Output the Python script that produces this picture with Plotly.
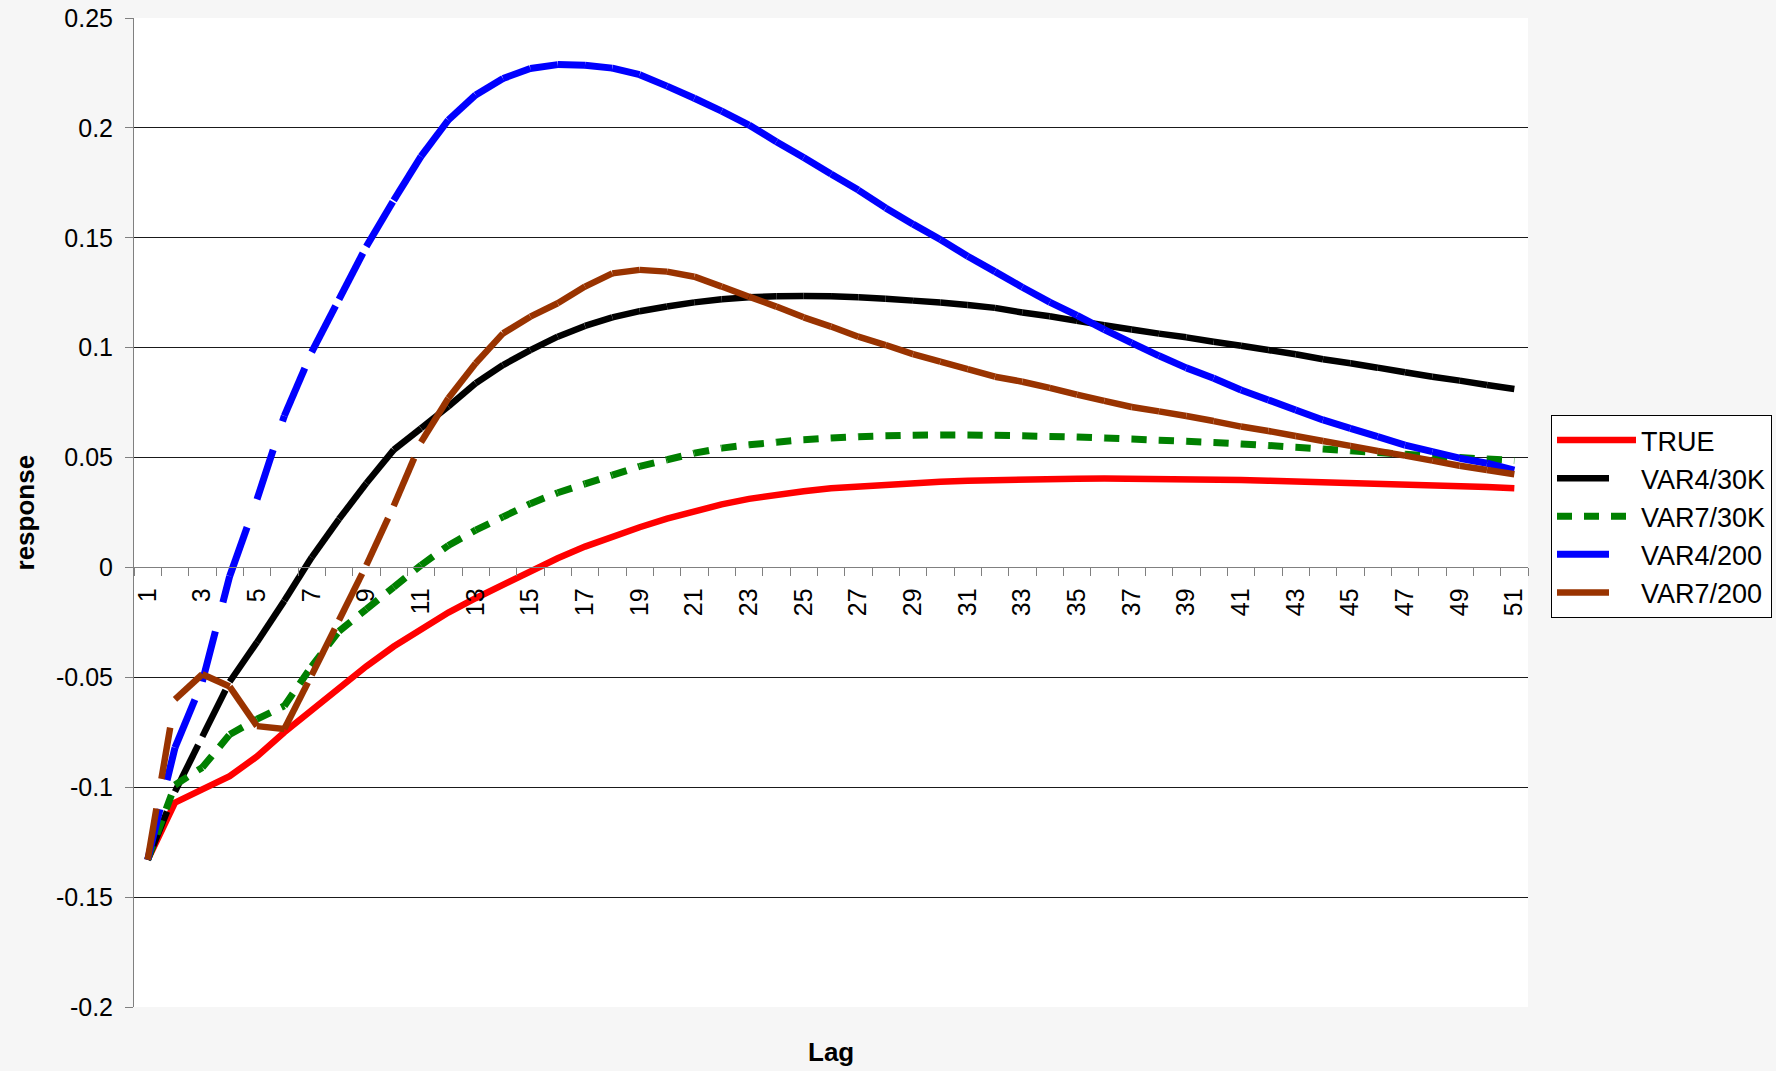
import plotly.graph_objects as go

# ---------------- data ----------------
lags = list(range(1, 52))

true_vals = [-0.133, -0.107, -0.101, -0.095, -0.086, -0.075, -0.065, -0.055, -0.045, -0.036,
             -0.028, -0.0205, -0.014, -0.0077, -0.0015, 0.0042, 0.0095, 0.0142, 0.0183, 0.0222,
             0.0257, 0.0287, 0.0312, 0.0332, 0.0347, 0.0360, 0.0369, 0.0377, 0.0385, 0.0390,
             0.0395, 0.0399, 0.0401, 0.0403, 0.0404, 0.0405, 0.0405, 0.0404, 0.0402, 0.0400,
             0.0398, 0.0395, 0.0392, 0.0389, 0.0386, 0.0382, 0.0378, 0.0374, 0.0370, 0.0366,
             0.0360]

var4_30k = [-0.133, -0.102, -0.077, -0.052, -0.034, -0.0152, 0.0046, 0.022, 0.0383, 0.0535,
            0.0633, 0.0732, 0.0838, 0.0921, 0.0989, 0.1050, 0.1099, 0.1138, 0.1166, 0.1187,
            0.1206, 0.1220, 0.1229, 0.1234, 0.1235, 0.1234, 0.1229, 0.1223, 0.1214, 0.1205,
            0.1194, 0.1181, 0.1160, 0.1143, 0.1122, 0.1102, 0.1083, 0.1064, 0.1047, 0.1027,
            0.1009, 0.0989, 0.0970, 0.0947, 0.0929, 0.0909, 0.0888, 0.0868, 0.0850, 0.0830,
            0.0812]

var7_30k = [-0.133, -0.099, -0.091, -0.076, -0.069, -0.063, -0.045, -0.029, -0.019, -0.009,
            0.001, 0.010, 0.017, 0.023, 0.029, 0.034, 0.038, 0.042, 0.046, 0.049,
            0.052, 0.0543, 0.0558, 0.0570, 0.0581, 0.0589, 0.0595, 0.0599, 0.0602, 0.0603,
            0.0603, 0.0601, 0.0599, 0.0596, 0.0593, 0.0589, 0.0584, 0.0579, 0.0574, 0.0569,
            0.0562, 0.0555, 0.0547, 0.0539, 0.0531, 0.0523, 0.0515, 0.0507, 0.0500, 0.0493,
            0.0487]

var4_200 = [-0.133, -0.082, -0.052, -0.004, 0.031, 0.069, 0.098, 0.122, 0.146, 0.167,
            0.187, 0.2036, 0.215, 0.2225, 0.227, 0.2288, 0.2285, 0.2272, 0.2242, 0.2190,
            0.2135, 0.2076, 0.2013, 0.1937, 0.1865, 0.1790, 0.1717, 0.1636, 0.1562, 0.1492,
            0.1416, 0.1346, 0.1275, 0.1207, 0.1147, 0.1082, 0.1022, 0.0963, 0.0908, 0.0861,
            0.0807, 0.0762, 0.0716, 0.0671, 0.0633, 0.0595, 0.0557, 0.0527, 0.0497, 0.0474,
            0.0443]

var7_200 = [-0.133, -0.060, -0.0486, -0.0542, -0.0722, -0.0735, -0.049, -0.024, 0.001, 0.028,
            0.057, 0.077, 0.0929, 0.1065, 0.1141, 0.1202, 0.1278, 0.1338, 0.1354, 0.1346,
            0.1323, 0.1278, 0.1232, 0.1187, 0.1138, 0.1096, 0.1050, 0.1012, 0.0971, 0.0936,
            0.0902, 0.0868, 0.0845, 0.0817, 0.0786, 0.0758, 0.0730, 0.0710, 0.0689, 0.0666,
            0.0641, 0.0621, 0.0598, 0.0575, 0.0553, 0.0530, 0.0509, 0.0486, 0.0463, 0.0443,
            0.0424]

x_tick_vals = list(range(1, 52, 2))
x_tick_text = [str(v) for v in x_tick_vals]
y_tick_vals = [0.25, 0.2, 0.15, 0.1, 0.05, 0.0, -0.05, -0.1, -0.15, -0.2]
y_tick_text = ["0.25", "0.2", "0.15", "0.1", "0.05", "0", "-0.05", "-0.1", "-0.15", "-0.2"]

FONT = "Liberation Sans, Arial, sans-serif"


def per_segment(xs, ys):
    """Split a series into separate sub-paths so the dash pattern restarts
    at every data point (as in the original spreadsheet rendering)."""
    sx, sy = [], []
    for i in range(len(xs) - 1):
        sx += [xs[i], xs[i + 1], None]
        sy += [ys[i], ys[i + 1], None]
    return sx, sy


fig = go.Figure()

fig.add_trace(go.Scatter(x=lags, y=true_vals, mode="lines", name="TRUE",
                         line=dict(color="#FF0000", width=6.5)))

series = [
    ("VAR4/30K", var4_30k, "#000000", 6.5, "52px,30px"),
    ("VAR7/30K", var7_30k, "#008000", 7, "15px,12px"),
    ("VAR4/200", var4_200, "#0000FF", 7, "52px,30px"),
    ("VAR7/200", var7_200, "#993300", 6.5, "52px,30px"),
]
for name, vals, color, width, dash in series:
    sx, sy = per_segment(lags, vals)
    fig.add_trace(go.Scatter(x=sx, y=sy, mode="lines", name=name, connectgaps=False,
                             line=dict(color=color, width=width, dash=dash, simplify=False)))

fig.update_layout(
    width=1776, height=1071,
    margin=dict(l=134, r=248, t=18, b=64, autoexpand=False),
    paper_bgcolor="#f6f6f6",
    plot_bgcolor="#ffffff",
    font=dict(family=FONT, color="#000000", size=25),
    showlegend=True,
    legend=dict(x=1.0165, y=0.5986, xanchor="left", yanchor="top",
                bgcolor="#ffffff", bordercolor="#000000", borderwidth=1,
                font=dict(family=FONT, size=27, color="#000000"),
                itemwidth=79, tracegroupgap=0),
    xaxis=dict(range=[0.5, 51.5], tickmode="array", tickvals=x_tick_vals, ticktext=x_tick_text,
               tickangle=-90, ticks="", showgrid=False, zeroline=False,
               showline=True, linecolor="#808080", linewidth=1,
               anchor="free", position=0.2 / 0.45, automargin=False,
               tickfont=dict(family=FONT, size=25, color="#000000"),
               ticklabelstandoff=10, ticklabeloverflow="allow",
               minor=dict(tickmode="linear", tick0=0.5, dtick=1, ticks="outside",
                          ticklen=8, tickcolor="#808080", tickwidth=1, showgrid=False)),
    yaxis=dict(range=[-0.2, 0.25], tickmode="array", tickvals=y_tick_vals, ticktext=y_tick_text,
               ticks="outside", ticklen=8, tickcolor="#808080", tickwidth=1,
               showline=True, linecolor="#808080", linewidth=1, automargin=False,
               showgrid=True, gridcolor="#1a1a1a", gridwidth=1, zeroline=False,
               tickfont=dict(family=FONT, size=25, color="#000000"),
               ticklabelstandoff=7, ticklabeloverflow="allow"),
    annotations=[
        dict(text="<b>response</b>", x=-0.0782, y=0.5, xref="paper", yref="paper",
             xanchor="center", yanchor="middle",
             textangle=-90, showarrow=False, font=dict(family=FONT, size=26, color="#000000")),
        dict(text="<b>Lag</b>", x=0.5, y=-0.0455, xref="paper", yref="paper",
             xanchor="center", yanchor="middle",
             showarrow=False, font=dict(family=FONT, size=26, color="#000000")),
    ],
)

# remove the default 8px page margin so the figure sits at the window origin
fig.write_html("out.html", config={"displayModeBar": False},
               post_script="document.body.style.margin='0';")
